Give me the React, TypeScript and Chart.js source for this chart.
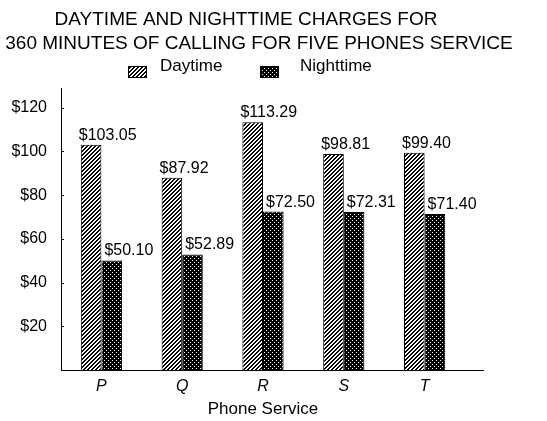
import { useEffect, useRef } from 'react';
import { Chart, registerables } from 'chart.js';

Chart.register(...registerables);

const categories = ['P', 'Q', 'R', 'S', 'T'];
const daytime = [103.05, 87.92, 113.29, 98.81, 99.4];
const nighttime = [50.1, 52.89, 72.5, 72.31, 71.4];
const yTickValues = [20, 40, 60, 80, 100, 120];
const seriesNames = ['Daytime', 'Nighttime'];
const titleLines = [
  'DAYTIME AND NIGHTTIME CHARGES FOR',
  '360 MINUTES OF CALLING FOR FIVE PHONES SERVICE',
];
const xAxisTitle = 'Phone Service';

const FONT = '"Liberation Sans", Arial, sans-serif';

function makeStripe(): CanvasPattern | string {
  const c = document.createElement('canvas');
  c.width = 4;
  c.height = 4;
  const ctx = c.getContext('2d');
  if (!ctx) return '#888';
  const img = ctx.createImageData(4, 4);
  for (let y = 0; y < 4; y++) {
    for (let x = 0; x < 4; x++) {
      const i = (y * 4 + x) * 4;
      const black = (x + y) % 4 < 2;
      const v = black ? 0 : 255;
      img.data[i] = v;
      img.data[i + 1] = v;
      img.data[i + 2] = v;
      img.data[i + 3] = 255;
    }
  }
  ctx.putImageData(img, 0, 0);
  return ctx.createPattern(c, 'repeat') || '#888';
}

function makeDots(): CanvasPattern | string {
  const c = document.createElement('canvas');
  c.width = 4;
  c.height = 4;
  const ctx = c.getContext('2d');
  if (!ctx) return '#222';
  const img = ctx.createImageData(4, 4);
  for (let y = 0; y < 4; y++) {
    for (let x = 0; x < 4; x++) {
      const i = (y * 4 + x) * 4;
      const white = (x === 0 && y === 0) || (x === 2 && y === 2);
      const v = white ? 255 : 0;
      img.data[i] = v;
      img.data[i + 1] = v;
      img.data[i + 2] = v;
      img.data[i + 3] = 255;
    }
  }
  ctx.putImageData(img, 0, 0);
  return ctx.createPattern(c, 'repeat') || '#222';
}

export default function App() {
  const ref = useRef<HTMLCanvasElement | null>(null);

  useEffect(() => {
    document.body.style.margin = '0';
    const canvas = ref.current;
    if (!canvas) return;
    const stripe = makeStripe();
    const dots = makeDots();
    const fills = [stripe, dots];

    const overlay = {
      id: 'overlay',
      afterDraw(chart: any) {
        const ctx = chart.ctx as CanvasRenderingContext2D;
        const area = chart.chartArea;
        ctx.save();
        ctx.fillStyle = '#000';
        ctx.strokeStyle = '#000';
        // title
        ctx.font = `19px ${FONT}`;
        ctx.textAlign = 'center';
        ctx.textBaseline = 'alphabetic';
        ctx.fillText(titleLines[0], 246, 25);
        ctx.fillText(titleLines[1], 259, 49);
        // legend
        const legendBoxX = [128, 260];
        const legendTextX = [160, 300];
        ctx.font = `17px ${FONT}`;
        ctx.textAlign = 'left';
        for (let i = 0; i < 2; i++) {
          ctx.fillStyle = fills[i] as any;
          ctx.fillRect(legendBoxX[i], 66, 19, 12);
          ctx.lineWidth = 1;
          ctx.strokeRect(legendBoxX[i] + 0.5, 66.5, 18, 11);
          ctx.fillStyle = '#000';
          ctx.fillText(seriesNames[i], legendTextX[i], 71);
        }
        // extended x-axis line
        ctx.beginPath();
        ctx.moveTo(area.right, area.bottom + 0.5);
        ctx.lineTo(area.right + 19, area.bottom + 0.5);
        ctx.stroke();
        // y tick marks (inside)
        const ys = chart.scales.y;
        yTickValues.forEach((v) => {
          const py = Math.round(ys.getPixelForValue(v)) + 0.5;
          ctx.beginPath();
          ctx.moveTo(area.left, py);
          ctx.lineTo(area.left + 3, py);
          ctx.stroke();
        });
        // value labels
        ctx.font = `16px ${FONT}`;
        ctx.textAlign = 'left';
        ctx.textBaseline = 'alphabetic';
        const offsets = [-2, 3];
        chart.data.datasets.forEach((ds: any, di: number) => {
          const meta = chart.getDatasetMeta(di);
          meta.data.forEach((bar: any, i: number) => {
            const val = ds.data[i] as number;
            const left = bar.x - bar.width / 2 + offsets[di];
            ctx.fillText('$' + val.toFixed(2), left, bar.y - 5);
          });
        });
        ctx.restore();
      },
    };

    const chart = new Chart(canvas, {
      type: 'bar',
      data: {
        labels: categories,
        datasets: [
          {
            label: seriesNames[0],
            data: daytime,
            backgroundColor: stripe as any,
            borderColor: '#000',
            borderWidth: 1,
            barPercentage: 1,
            categoryPercentage: 0.51,
          },
          {
            label: seriesNames[1],
            data: nighttime,
            backgroundColor: dots as any,
            borderColor: '#000',
            borderWidth: 1,
            barPercentage: 1,
            categoryPercentage: 0.51,
          },
        ],
      },
      options: {
        responsive: false,
        animation: false,
        devicePixelRatio: 1,
        layout: { padding: { top: 88, right: 82, left: 0, bottom: 0 } },
        plugins: {
          legend: { display: false },
          title: { display: false },
          tooltip: { enabled: false },
        },
        scales: {
          x: {
            type: 'category',
            offset: true,
            grid: { display: false, drawTicks: false },
            border: { display: true, color: '#000', width: 1 },
            ticks: {
              color: '#000',
              font: { family: FONT, size: 16, style: 'italic' },
              padding: 7,
            },
            title: {
              display: true,
              text: xAxisTitle,
              color: '#000',
              font: { family: FONT, size: 17 },
              padding: { top: 0, bottom: 1 },
            },
            afterFit(scale: any) {
              scale.height = 51;
            },
          },
          y: {
            type: 'linear',
            min: 0,
            max: 129,
            grid: { display: false, drawTicks: false },
            border: { display: true, color: '#000', width: 1 },
            ticks: {
              color: '#000',
              font: { family: FONT, size: 16 },
              padding: 14,
              callback: (v: any) => '$' + v,
            },
            afterBuildTicks(scale: any) {
              scale.ticks = yTickValues.map((v) => ({ value: v }));
            },
            afterFit(scale: any) {
              scale.width = 61;
            },
          },
        },
      },
      plugins: [overlay],
    });
    return () => chart.destroy();
  }, []);

  return (
    <canvas ref={ref} width={547} height={421} style={{ display: 'block' }} />
  );
}
